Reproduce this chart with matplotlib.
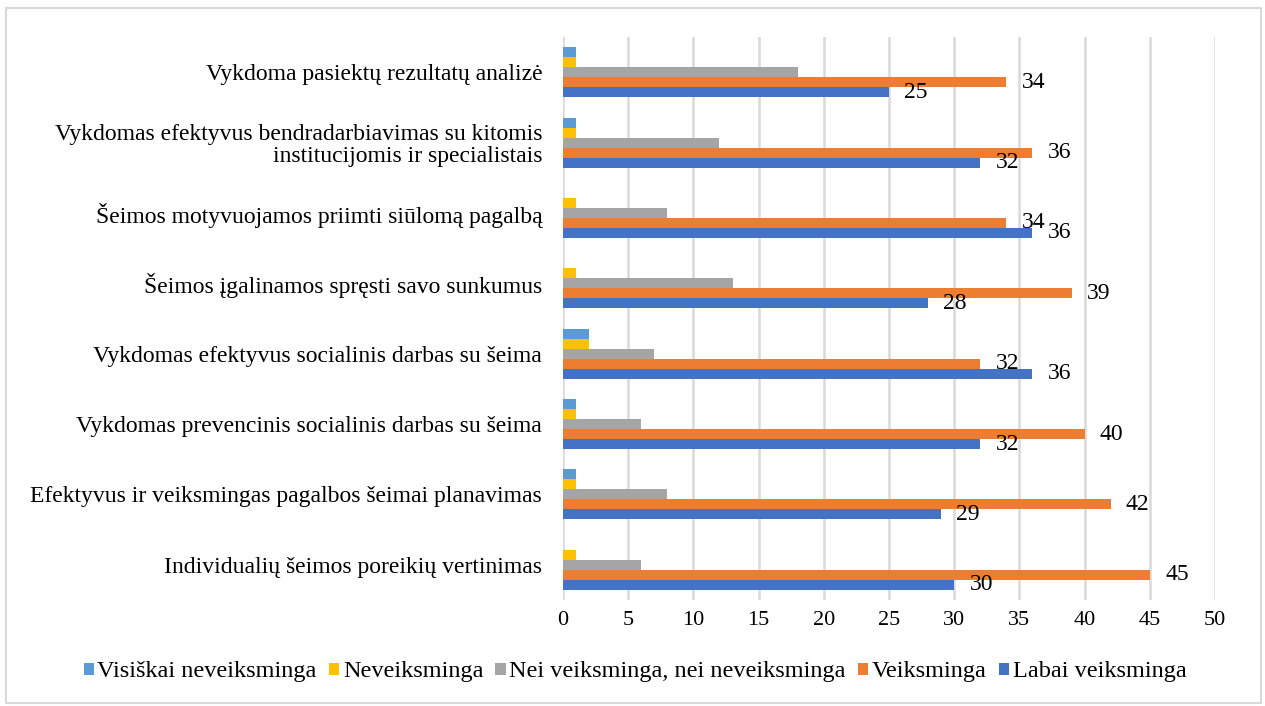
import matplotlib.pyplot as plt
from matplotlib.patches import Rectangle
import numpy as np

plt.rcParams['font.family'] = ['Liberation Serif', 'DejaVu Serif']

# %% --------------- DATA ---------------
categories = [
    "Individualių šeimos poreikių vertinimas",
    "Efektyvus ir veiksmingas pagalbos šeimai planavimas",
    "Vykdomas prevencinis socialinis darbas su šeima",
    "Vykdomas efektyvus socialinis darbas su šeima",
    "Šeimos įgalinamos spręsti savo sunkumus",
    "Šeimos motyvuojamos priimti siūlomą pagalbą",
    "Vykdomas efektyvus bendradarbiavimas su kitomis\ninstitucijomis ir specialistais",
    "Vykdoma pasiektų rezultatų analizė",
]
series_names = ["Visiškai neveiksminga", "Neveiksminga",
                "Nei veiksminga, nei neveiksminga", "Veiksminga", "Labai veiksminga"]
visiskai = [0, 1, 1, 2, 0, 0, 1, 1]
neveiksminga = [1, 1, 1, 2, 1, 1, 1, 1]
nei = [6, 8, 6, 7, 13, 8, 12, 18]
veiksminga = [45, 42, 40, 32, 39, 34, 36, 34]
labai = [30, 29, 32, 36, 28, 36, 32, 25]
colors = ["#5B9BD5", "#FFC000", "#A5A5A5", "#ED7D31", "#4472C4"]

# %% --------------- PLOT ---------------
fig = plt.figure(figsize=(12.65, 7.06), dpi=100)
fig.patches.append(Rectangle((6 / 1265, 3 / 706), 1255 / 1265, 695 / 706,
                             transform=fig.transFigure, fill=False,
                             edgecolor="#d9d9d9", linewidth=1.5))
ax = fig.add_axes([563 / 1265, 1 - 600 / 706, (1215 - 563) / 1265, (600 - 37) / 706])

y = np.arange(len(categories))
h = 0.142
all_series = [visiskai, neveiksminga, nei, veiksminga, labai]
for k, (vals, name, col) in enumerate(zip(all_series, series_names, colors)):
    bars = ax.barh(y + (2 - k) * h, vals, height=h, color=col, label=name, zorder=3)
    if k >= 3:
        ax.bar_label(bars, padding=11, fontsize=17)

ax.set_xlim(0, 50)
ax.set_ylim(-0.5, len(categories) - 0.5)
ax.set_xticks(np.arange(0, 51, 5))
ax.set_yticks(y)
ax.set_yticklabels(categories, fontsize=17, linespacing=1.05)
ax.tick_params(axis="x", length=0, labelsize=16, pad=8)
ax.tick_params(axis="y", length=0, pad=15)
ax.grid(axis="x", color="#d9d9d9", linewidth=1.8, zorder=0)
for s in ax.spines.values():
    s.set_visible(False)

ax.legend(loc="center", bbox_to_anchor=(635 / 1265, 1 - 672 / 706),
          bbox_transform=fig.transFigure, ncol=5, frameon=False, fontsize=17.5,
          handlelength=0.42, handleheight=0.42, handletextpad=0.15, columnspacing=0.5)

fig.savefig("out.png", dpi=100)
